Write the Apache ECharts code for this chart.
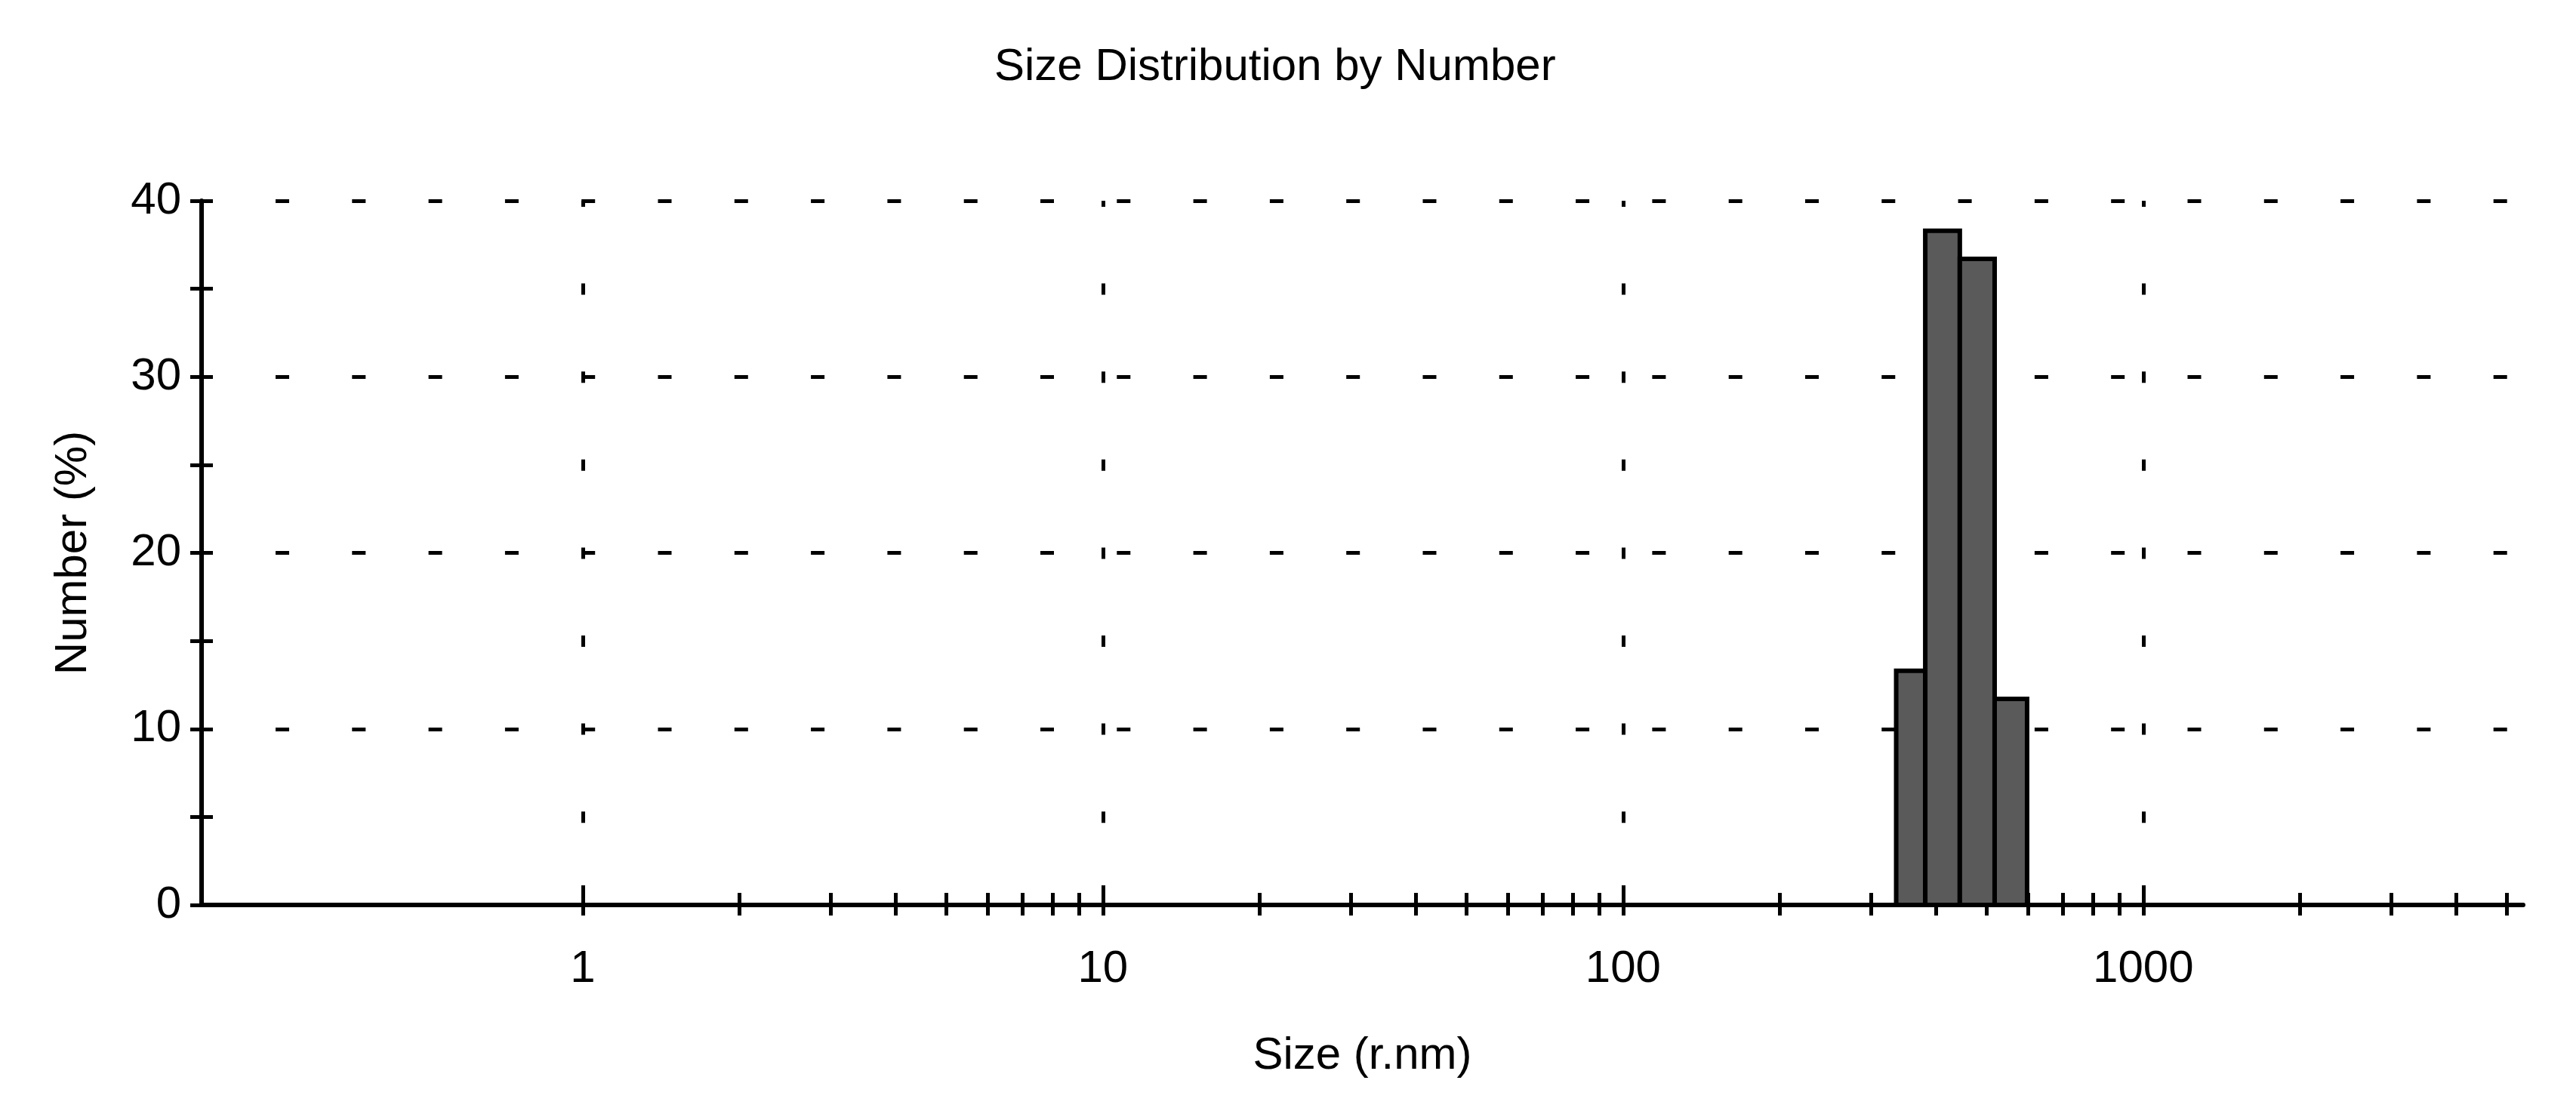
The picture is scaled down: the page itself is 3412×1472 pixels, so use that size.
<!DOCTYPE html>
<html><head><meta charset="utf-8">
<script src="https://cdn.jsdelivr.net/npm/echarts@6/dist/echarts.min.js"></script>
<style>html,body{margin:0;padding:0;background:#fff}#c{width:3412px;height:1472px}</style>
</head><body><div id="c"></div>
<script>
const titleText = 'Size Distribution by Number';
const xAxisName = 'Size (r.nm)';
const yAxisName = 'Number (%)';
// histogram bins (radius, nm) and Number (%)
const binStart = [335, 381, 444, 518];
const binEnd = [381, 444, 518, 598];
const numberPct = [13.3, 38.3, 36.7, 11.7];
// axis ticks
const xMajorTicks = [1, 10, 100, 1000];
const xMinorTicks = [2,3,4,5,6,7,8,9,20,30,40,50,60,70,80,90,200,300,400,500,600,700,800,900,2000,3000,4000,5000];
const yMajorTicks = [0, 10, 20, 30, 40];
const yMinorTicks = [5, 15, 25, 35];
const xMin = 0.185, xMax = 5375;
const yMin = 0, yMax = 40;

const FONT = "'Liberation Sans', Arial, sans-serif";
const BLACK = '#000';
const chart = echarts.init(document.getElementById('c'), null, {renderer: 'canvas'});

function xAx(extra) {
  return Object.assign({
    type: 'log', min: xMin, max: xMax, position: 'bottom', gridIndex: 0,
    axisLine: {show: false, onZero: false},
    axisTick: {show: false},
    axisLabel: {show: false},
    splitLine: {show: false},
    minorTick: {show: false}, minorSplitLine: {show: false}
  }, extra);
}
function yAx(extra) {
  return Object.assign({
    type: 'value', min: yMin, max: yMax, interval: 10, position: 'left', gridIndex: 0,
    axisLine: {show: false, onZero: false},
    axisTick: {show: false},
    axisLabel: {show: false},
    splitLine: {show: false},
    minorTick: {show: false}, minorSplitLine: {show: false}
  }, extra);
}

const option = {
  animation: false,
  backgroundColor: '#fff',
  title: {
    text: titleText, left: 1312, top: 54,
    textStyle: {fontFamily: FONT, fontSize: 60, fontWeight: 'normal', color: BLACK}
  },
  grid: {left: 267, right: 70, top: 266, bottom: 273, containLabel: false, outerBoundsMode: 'none'},
  xAxis: [
    xAx({
      axisLine: {show: true, onZero: false, lineStyle: {color: BLACK, width: 6}},
      axisTick: {show: true, inside: false, length: 14, customValues: xMajorTicks.concat(xMinorTicks), lineStyle: {color: BLACK, width: 5}},
      axisLabel: {show: true, customValues: xMajorTicks, margin: 55, color: BLACK, fontSize: 60, fontFamily: FONT,
        formatter: v => String(Math.round(v))},
      name: xAxisName, nameLocation: 'middle', nameGap: 170,
      nameTextStyle: {fontFamily: FONT, fontSize: 60, color: BLACK}
    }),
    xAx({
      axisTick: {show: true, inside: true, length: 26, customValues: xMajorTicks, lineStyle: {color: BLACK, width: 5}},
      splitLine: {show: true, lineStyle: {color: BLACK, width: 5, type: [15, 101.6], dashOffset: 7}}
    }),
    xAx({
      axisTick: {show: true, inside: true, length: 16, customValues: xMinorTicks, lineStyle: {color: BLACK, width: 5}}
    })
  ],
  yAxis: [
    yAx({
      axisLine: {show: true, onZero: false, lineStyle: {color: BLACK, width: 6}},
      axisTick: {show: true, inside: false, length: 15, customValues: yMajorTicks.concat(yMinorTicks), lineStyle: {color: BLACK, width: 5}},
      axisLabel: {show: true, margin: 27, color: BLACK, fontSize: 60, fontFamily: FONT},
      name: yAxisName, nameLocation: 'middle', nameGap: 140, nameRotate: 90,
      nameTextStyle: {fontFamily: FONT, fontSize: 60, color: BLACK}
    }),
    yAx({
      axisTick: {show: true, inside: true, length: 15, customValues: yMajorTicks, lineStyle: {color: BLACK, width: 5}},
      splitLine: {show: true, lineStyle: {color: BLACK, width: 5, type: [18, 83.3], dashOffset: 3.3}}
    }),
    yAx({
      axisTick: {show: true, inside: true, length: 15, customValues: yMinorTicks, lineStyle: {color: BLACK, width: 5}}
    })
  ],
  series: [{
    type: 'custom',
    xAxisIndex: 0, yAxisIndex: 0,
    encode: {x: [0, 1], y: 2},
    data: binStart.map((s, i) => [s, binEnd[i], numberPct[i]]),
    renderItem: function (params, api) {
      const p0 = api.coord([api.value(0), api.value(2)]);
      const p1 = api.coord([api.value(1), 0]);
      return {
        type: 'rect',
        shape: {x: p0[0], y: p0[1], width: p1[0] - p0[0], height: p1[1] - p0[1]},
        style: {fill: '#5a5a5a', stroke: BLACK, lineWidth: 6}
      };
    },
    z: 5
  }]
};
chart.setOption(option);
</script>
</body></html>
